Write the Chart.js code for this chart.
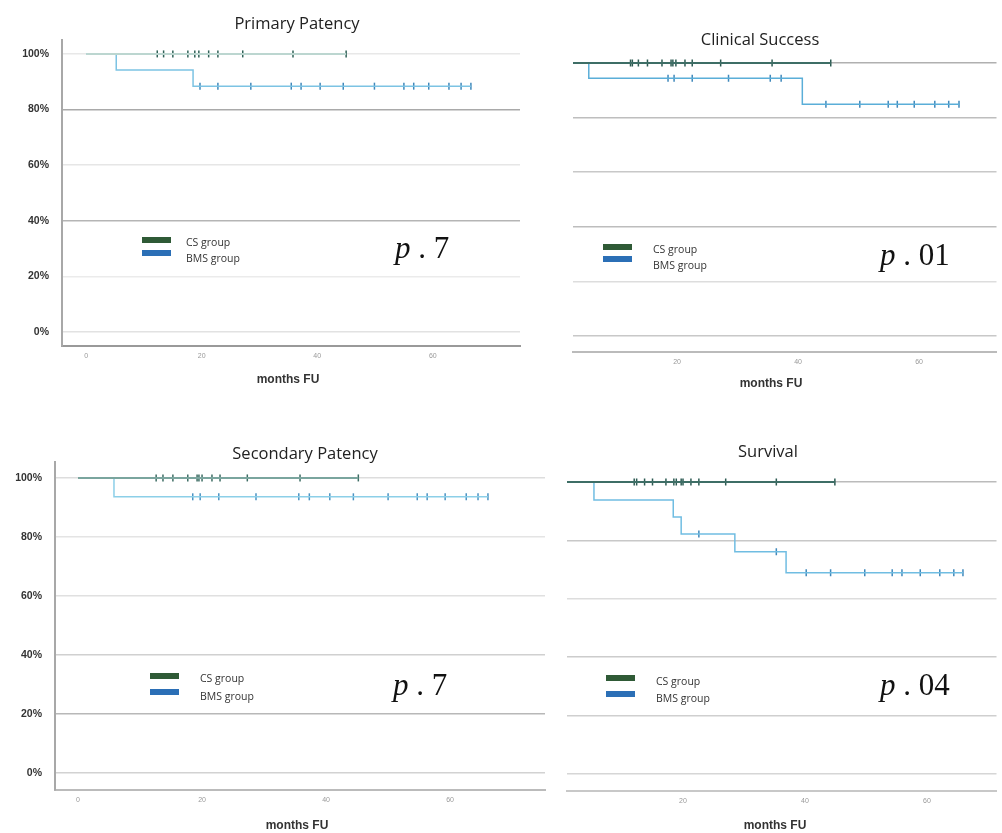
<!DOCTYPE html>
<html>
<head>
<meta charset="utf-8">
<script src="https://cdn.jsdelivr.net/npm/chart.js@4.4.1/dist/chart.umd.min.js"></script>
<style>
  body { margin: 0; background: #fff; width: 1002px; height: 833px; position: relative; overflow: hidden; font-family: "Open Sans", sans-serif; }
  canvas { position: absolute; }
  .c { position: absolute; transform: translate(-50%, -50%); white-space: nowrap; }
  .title { font-size: 16.5px; color: #222; }
  .axt { font-family: "Liberation Sans", Arial, sans-serif; font-size: 12px; font-weight: bold; color: #333; }
  .lt { position: absolute; font-size: 10.5px; line-height: 12px; color: #333; transform: translateY(-50%); white-space: nowrap; }
  .sw { position: absolute; width: 29px; height: 6px; transform: translateY(-50%); }
  .pv { position: absolute; font-family: "Liberation Serif", "Times New Roman", serif; font-size: 31px; line-height: 30px; color: #111; white-space: nowrap; }
</style>
</head>
<body>
<canvas id="c1" width="530" height="385" style="left:0;top:0"></canvas>
<canvas id="c2" width="442" height="370" style="left:560px;top:20px"></canvas>
<canvas id="c3" width="560" height="398" style="left:0;top:435px"></canvas>
<canvas id="c4" width="442" height="398" style="left:560px;top:435px"></canvas>

<div class="c title" style="left:297px;top:22px">Primary Patency</div>
<div class="c title" style="left:760px;top:38px">Clinical Success</div>
<div class="c title" style="left:305px;top:452px">Secondary Patency</div>
<div class="c title" style="left:768px;top:450px">Survival</div>

<div class="c axt" style="left:288px;top:379px">months FU</div>
<div class="c axt" style="left:771px;top:383px">months FU</div>
<div class="c axt" style="left:297px;top:825px">months FU</div>
<div class="c axt" style="left:775px;top:825px">months FU</div>

<div class="sw" style="left:142px;top:240px;background:#2f5a36"></div>
<div class="sw" style="left:142px;top:253px;background:#2b6fb6"></div>
<div class="lt" style="left:186px;top:242px">CS group</div>
<div class="lt" style="left:186px;top:258px">BMS group</div>

<div class="sw" style="left:603px;top:247px;background:#2f5a36"></div>
<div class="sw" style="left:603px;top:259px;background:#2b6fb6"></div>
<div class="lt" style="left:653px;top:249px">CS group</div>
<div class="lt" style="left:653px;top:265px">BMS group</div>

<div class="sw" style="left:150px;top:676px;background:#2f5a36"></div>
<div class="sw" style="left:150px;top:692px;background:#2b6fb6"></div>
<div class="lt" style="left:200px;top:678px">CS group</div>
<div class="lt" style="left:200px;top:696px">BMS group</div>

<div class="sw" style="left:606px;top:678px;background:#2f5a36"></div>
<div class="sw" style="left:606px;top:694px;background:#2b6fb6"></div>
<div class="lt" style="left:656px;top:681px">CS group</div>
<div class="lt" style="left:656px;top:698px">BMS group</div>

<div class="pv" style="left:395px;top:233px"><i>p</i> . 7</div>
<div class="pv" style="left:880px;top:240px"><i>p</i> . 01</div>
<div class="pv" style="left:393px;top:670px"><i>p</i> . 7</div>
<div class="pv" style="left:880px;top:670px"><i>p</i> . 04</div>

<script>
// Kaplan-Meier steps: event times (months) and survival (%), plus censored times
const primaryCsTime = [0, 45];
const primaryCsSurv = [100, 100];
const primaryCsCensor = [12.3, 13.4, 15, 17.6, 18.8, 19.5, 21.2, 22.8, 27.1, 35.8, 45];
const primaryBmsTime = [0, 5.2, 18.5, 66.6];
const primaryBmsSurv = [100, 94.2, 88.4, 88.4];
const primaryBmsCensor = [19.7, 22.8, 28.5, 35.5, 37.2, 40.5, 44.5, 49.9, 55, 56.7, 59.3, 62.8, 64.9, 66.6];

const clinicalCsTime = [0, 45.4];
const clinicalCsSurv = [100, 100];
const clinicalCsCensor = [12.3, 12.6, 13.6, 15.1, 17.5, 19, 19.3, 19.8, 21.3, 22.5, 27.2, 35.7, 45.4];
const clinicalBmsTime = [0, 5.4, 40.7, 66.7];
const clinicalBmsSurv = [100, 94.4, 84.9, 84.9];
const clinicalBmsCensor = [18.5, 19.5, 22.5, 28.5, 35.4, 37.2, 44.6, 50.2, 54.9, 56.4, 59.2, 62.6, 64.9, 66.6];

const secondaryCsTime = [0, 45.2];
const secondaryCsSurv = [100, 100];
const secondaryCsCensor = [12.6, 13.7, 15.3, 17.7, 19.2, 19.5, 20, 21.6, 22.9, 27.3, 35.8, 45.2];
const secondaryBmsTime = [0, 5.8, 66.1];
const secondaryBmsSurv = [100, 93.6, 93.6];
const secondaryBmsCensor = [18.5, 19.7, 22.7, 28.7, 35.6, 37.3, 40.6, 44.4, 50, 54.7, 56.3, 59.2, 62.6, 64.5, 66.1];

const survivalCsTime = [0, 44.9];
const survivalCsSurv = [100, 100];
const survivalCsCensor = [12, 12.4, 13.7, 15, 17.2, 18.5, 18.9, 19.7, 20, 21.3, 22.6, 27, 35.3, 44.9];
const survivalBmsTime = [0, 5.4, 18.4, 19.7, 28.5, 36.9, 65.9];
const survivalBmsSurv = [100, 93.8, 88, 82.2, 76.1, 68.9, 68.9];
const survivalBmsCensor = [22.6, 35.3, 40.2, 44.2, 49.8, 54.3, 55.9, 58.9, 62.1, 64.4, 65.9];

const seriesNames = ['CS group', 'BMS group'];

function steps(times, surv) {
  return times.map((t, i) => ({ x: t, y: surv[i] }));
}

// censor mark sits on the curve level at its time
function marks(times, surv, cens) {
  return cens.map(c => {
    let y = surv[0];
    for (let i = 0; i < times.length; i++) if (times[i] <= c) y = surv[i];
    return { x: c, y: y };
  });
}

function curve(label, times, surv, color, width) {
  return { label, data: steps(times, surv), showLine: true, stepped: 'before',
    borderColor: color, borderWidth: width, pointRadius: 0, fill: false };
}

function censor(label, times, surv, cens, color) {
  return { label, data: marks(times, surv, cens), showLine: false,
    pointStyle: 'line', rotation: 90, pointRadius: 3.5, borderColor: color,
    pointBorderWidth: 1.5, backgroundColor: color };
}

function panel(id, p) {
  new Chart(document.getElementById(id), {
    type: 'scatter',
    data: { datasets: p.datasets },
    options: {
      responsive: false,
      animation: false,
      layout: { padding: { top: p.top, right: p.right, left: 0, bottom: 0 } },
      plugins: { legend: { display: false }, tooltip: { enabled: false } },
      scales: {
        x: {
          type: 'linear', min: p.xMin, max: p.xMax,
          afterFit: s => { s.height = p.xH; },
          ticks: { stepSize: 20, includeBounds: false, padding: 6, color: '#999',
            font: { family: 'Liberation Sans', size: 7 } },
          grid: { drawOnChartArea: false, drawTicks: false },
          border: { display: true, color: p.xAxisColor, width: 2 }
        },
        y: {
          type: 'linear', min: p.yMin, max: p.yMax,
          afterFit: s => { s.width = p.yW; },
          ticks: { display: p.yLabels, stepSize: 20, includeBounds: false, padding: 13,
            color: '#333', font: { family: 'Liberation Sans', size: 10.5, weight: 'bold' },
            callback: v => v + '%' },
          grid: { drawTicks: false, lineWidth: 1.6, color: c => p.grid[c.index] || '#ddd' },
          border: { display: p.yLabels, color: '#a8a8a8', width: 2 }
        }
      }
    }
  });
}

panel('c1', {
  top: 40, right: 10, yW: 62, xH: 39, xMin: -4.19, xMax: 75.1, yMin: -5.04, yMax: 105,
  yLabels: true, xAxisColor: '#999',
  grid: ['#e2e2e2', '#ebebeb', '#b5b5b5', '#e6e6e6', '#a9a9a9', '#e8e8e8'],
  datasets: [
    curve(seriesNames[0], primaryCsTime, primaryCsSurv, '#bcd6d0', 2),
    curve(seriesNames[1], primaryBmsTime, primaryBmsSurv, '#7cc3e3', 1.5),
    censor(seriesNames[0], primaryCsTime, primaryCsSurv, primaryCsCensor, '#2f6157'),
    censor(seriesNames[1], primaryBmsTime, primaryBmsSurv, primaryBmsCensor, '#3f88bb')
  ]
});

panel('c2', {
  top: 28, right: 2, yW: 13, xH: 38, xMin: 2.79, xMax: 72.8, yMin: -5.86, yMax: 105.5,
  yLabels: false, xAxisColor: '#bbb',
  grid: ['#c8c8c8', '#dddddd', '#bdbdbd', '#c8c8c8', '#bebebe', '#b0b0b0'],
  datasets: [
    curve(seriesNames[0], clinicalCsTime, clinicalCsSurv, '#3e6e66', 2),
    curve(seriesNames[1], clinicalBmsTime, clinicalBmsSurv, '#5aaed8', 1.5),
    censor(seriesNames[0], clinicalCsTime, clinicalCsSurv, clinicalCsCensor, '#2c5a52'),
    censor(seriesNames[1], clinicalBmsTime, clinicalBmsSurv, clinicalBmsCensor, '#3f88bb')
  ]
});

panel('c3', {
  top: 27, right: 15, yW: 55, xH: 43, xMin: -3.71, xMax: 75.3, yMin: -5.76, yMax: 105.4,
  yLabels: true, xAxisColor: '#bbb',
  grid: ['#d2d2d2', '#b8b8b8', '#d0d0d0', '#e0e0e0', '#e4e4e4', '#dddddd'],
  datasets: [
    curve(seriesNames[0], secondaryCsTime, secondaryCsSurv, '#7aa59e', 2),
    curve(seriesNames[1], secondaryBmsTime, secondaryBmsSurv, '#8ccfe8', 1.5),
    censor(seriesNames[0], secondaryCsTime, secondaryCsSurv, secondaryCsCensor, '#3c6c63'),
    censor(seriesNames[1], secondaryBmsTime, secondaryBmsSurv, secondaryBmsCensor, '#4a93c3')
  ]
});

panel('c4', {
  top: 30, right: 2, yW: 7, xH: 42, xMin: 0.98, xMax: 71.4, yMin: -5.82, yMax: 105.8,
  yLabels: false, xAxisColor: '#c8c8c8',
  grid: ['#d6d6d6', '#cfcfcf', '#cccccc', '#dddddd', '#c8c8c8', '#bbbbbb'],
  datasets: [
    curve(seriesNames[0], survivalCsTime, survivalCsSurv, '#3e6e66', 2),
    curve(seriesNames[1], survivalBmsTime, survivalBmsSurv, '#70bde2', 1.5),
    censor(seriesNames[0], survivalCsTime, survivalCsSurv, survivalCsCensor, '#2c5a52'),
    censor(seriesNames[1], survivalBmsTime, survivalBmsSurv, survivalBmsCensor, '#3f88bb')
  ]
});
</script>
</body>
</html>
